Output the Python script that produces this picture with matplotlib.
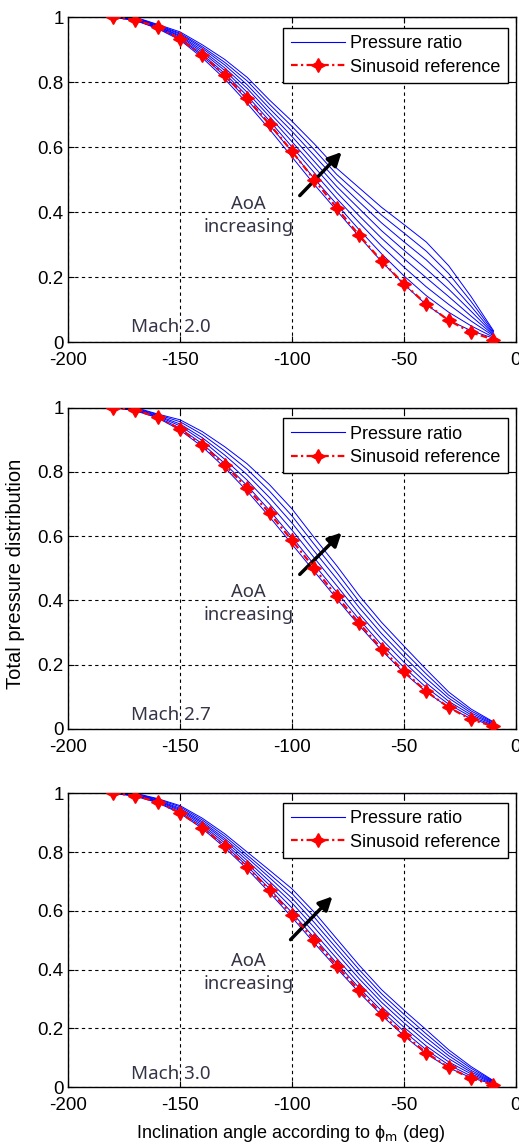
import matplotlib
matplotlib.use("Agg")
import matplotlib.pyplot as plt
from matplotlib.lines import Line2D

plt.rcParams["font.family"] = ["Liberation Sans", "DejaVu Sans"]
plt.rcParams["axes.unicode_minus"] = False

# reference sinusoid
angle_ref = [-180, -170, -160, -150, -140, -130, -120, -110, -100,
             -90, -80, -70, -60, -50, -40, -30, -20, -10]
sinusoid_ref = [1.0, 0.992, 0.970, 0.933, 0.883, 0.821, 0.750, 0.671, 0.587,
                0.500, 0.413, 0.329, 0.250, 0.179, 0.117, 0.067, 0.030, 0.008]

# pressure ratio curves, one list per AoA
angle_pr = angle_ref
flat_x = [-180, -10]
flat_y = [1.0, 1.0]

mach20 = [
    [1.0, .990, .965, .930, .875, .810, .735, .655, .570, .485, .405, .325, .248, .178, .115, .068, .035, .012],
    [1.0, .991, .967, .934, .881, .819, .746, .668, .586, .503, .424, .346, .272, .204, .143, .092, .050, .015],
    [1.0, .993, .969, .937, .886, .827, .758, .681, .601, .521, .442, .368, .296, .231, .170, .116, .065, .019],
    [1.0, .994, .971, .941, .892, .836, .769, .694, .617, .539, .461, .389, .320, .257, .198, .140, .080, .022],
    [1.0, .996, .972, .944, .898, .844, .781, .706, .633, .556, .479, .411, .343, .283, .225, .163, .095, .025],
    [1.0, .997, .974, .948, .904, .853, .792, .719, .649, .574, .498, .432, .367, .309, .253, .187, .110, .028],
    [1.0, .999, .976, .951, .909, .861, .804, .732, .664, .592, .516, .454, .391, .336, .280, .211, .125, .032],
    [1.0, 1.0, .978, .955, .915, .870, .815, .745, .680, .610, .535, .475, .415, .362, .308, .235, .140, .035],
]

mach27 = [
    [1.0, .990, .968, .930, .878, .813, .740, .660, .575, .490, .405, .322, .245, .175, .115, .067, .032, .010],
    [1.0, .992, .970, .936, .887, .826, .757, .680, .597, .511, .426, .341, .262, .192, .129, .077, .038, .012],
    [1.0, .994, .973, .943, .897, .839, .774, .700, .619, .532, .446, .359, .280, .208, .143, .086, .044, .015],
    [1.0, .996, .975, .949, .906, .852, .791, .720, .641, .553, .467, .378, .297, .225, .157, .096, .050, .017],
    [1.0, .998, .978, .956, .916, .865, .808, .740, .663, .574, .487, .396, .315, .241, .171, .105, .056, .020],
    [1.0, 1.0, .980, .962, .925, .878, .825, .760, .685, .595, .508, .415, .332, .258, .185, .115, .062, .022],
]

mach30 = [
    [1.0, .990, .968, .932, .880, .815, .742, .662, .578, .490, .405, .322, .245, .175, .113, .066, .032, .010],
    [1.0, .992, .970, .936, .886, .823, .752, .675, .594, .508, .422, .338, .260, .190, .127, .076, .038, .012],
    [1.0, .993, .973, .941, .892, .831, .761, .687, .610, .525, .438, .353, .274, .204, .140, .086, .045, .014],
    [1.0, .995, .975, .945, .898, .839, .771, .700, .627, .543, .455, .369, .289, .219, .154, .097, .051, .016],
    [1.0, .997, .977, .949, .903, .846, .781, .713, .643, .560, .472, .384, .303, .233, .168, .107, .057, .018],
    [1.0, .998, .980, .954, .909, .854, .790, .725, .659, .578, .488, .400, .318, .248, .181, .117, .064, .020],
    [1.0, 1.0, .982, .958, .915, .862, .800, .738, .675, .595, .505, .415, .332, .262, .195, .127, .070, .022],
]

mach_labels = ["Mach 2.0", "Mach 2.7", "Mach 3.0"]
x_ticks = [-200, -150, -100, -50, 0]
y_ticks = [0, 0.2, 0.4, 0.6, 0.8, 1]
y_tick_labels = ["0", "0.2", "0.4", "0.6", "0.8", "1"]

fig = plt.figure(figsize=(5.19, 11.48), dpi=100)
axes_rects = [
    [0.131, 0.702, 0.863, 0.283],
    [0.131, 0.365, 0.863, 0.280],
    [0.131, 0.053, 0.863, 0.256],
]
arrows = [
    ((-96.5, 0.451), (-77.8, 0.585)),
    ((-96.5, 0.481), (-77.8, 0.611)),
    ((-100.6, 0.502), (-81.9, 0.649)),
]
label_color = "#343446"
ref_style = dict(color="red", ls=(0, (3, 1.5, 1, 1.5)), lw=1.6,
                 marker=(4, 1, 0), ms=10, mew=1.0)

for rect, curves, mach, (a0, a1) in zip(axes_rects, [mach20, mach27, mach30],
                                        mach_labels, arrows):
    ax = fig.add_axes(rect)
    ax.plot(flat_x, flat_y, color="#0000ff", lw=0.8)
    for c in curves:
        ax.plot(angle_pr, c, color="#0000ff", lw=0.7)
    ax.plot(angle_ref, sinusoid_ref, zorder=5, **ref_style)

    ax.set_xlim(-200, 0)
    ax.set_ylim(0, 1)
    ax.set_xticks(x_ticks)
    ax.set_yticks(y_ticks)
    ax.set_yticklabels(y_tick_labels)
    ax.tick_params(direction="in", top=True, right=True, labelsize=13.5,
                   length=4)
    ax.tick_params(axis="x", pad=7)
    ax.tick_params(axis="y", pad=3)
    ax.grid(True, color="k", ls=(0, (3, 3)), lw=0.8)
    ax.set_axisbelow(True)
    for s in ax.spines.values():
        s.set_linewidth(1.0)

    ax.text(-119.5, 0.39, "AoA\nincreasing", ha="center", va="center",
            fontsize=13.3, family=["Noto Sans", "DejaVu Sans"],
            color=label_color, linespacing=1.35)
    ax.text(-154, 0.045, mach, ha="center", va="center", fontsize=13.5,
            family=["Noto Sans", "DejaVu Sans"], color=label_color)
    ax.annotate("", xy=a1, xytext=a0,
                arrowprops=dict(arrowstyle="-|>", lw=2.5, color="k",
                                mutation_scale=20, shrinkA=0, shrinkB=0))

    handles = [
        Line2D([], [], color="#0000ff", lw=0.8),
        Line2D([], [], **ref_style),
    ]
    leg = ax.legend(handles, ["Pressure ratio", "Sinusoid reference"],
                    loc="upper right", bbox_to_anchor=(0.982, 0.966),
                    borderaxespad=0, fontsize=13, fancybox=False,
                    framealpha=1, edgecolor="k", handlelength=3.0,
                    borderpad=0.4, labelspacing=0.35, handletextpad=0.3)
    leg.get_frame().set_linewidth(1.0)

fig.text(0.029, 0.5, "Total pressure distribution", rotation=90,
         ha="center", va="center", fontsize=14.5)
fig.text(0.56, 0.013, "Inclination angle according to ϕ$_{\\rm m}$ (deg)",
         ha="center", va="center", fontsize=13)

fig.savefig("out.png", dpi=100)
